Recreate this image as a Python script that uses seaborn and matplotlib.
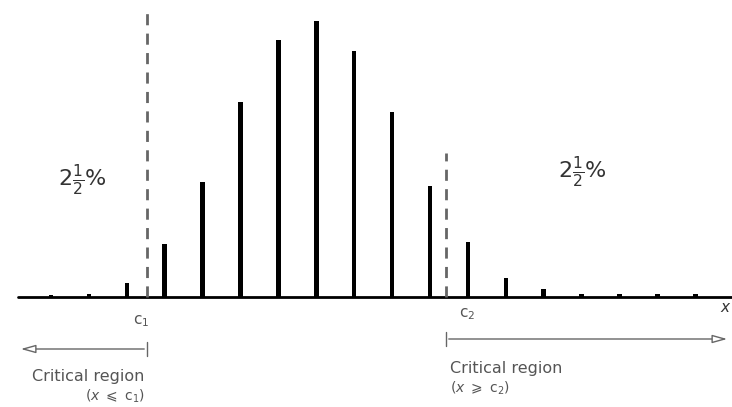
import matplotlib
matplotlib.use("Agg")
import matplotlib.pyplot as plt
import seaborn as sns
import numpy as np
import pandas as pd

# ---- data ----
outcomes = list(range(18))
probabilities = [0.0012, 0.0018, 0.009, 0.034, 0.073, 0.124, 0.164, 0.176, 0.157,
                 0.118, 0.071, 0.035, 0.012, 0.005, 0.002, 0.002, 0.002, 0.002]
c1_pos = 2.53
c2_pos = 10.42
c1_height = 0.183
c2_height = 0.092
tail_label = r"2$\frac{1}{2}$%"

sns.set_style("white")
plt.rcParams['font.family'] = ['DejaVu Sans']
plt.rcParams['mathtext.fontset'] = 'dejavusans'

W, H = 732, 407
fig = plt.figure(figsize=(W / 100, H / 100), dpi=100)
ax = fig.add_axes([0, 0, 1, 1])

df = pd.DataFrame({"x": outcomes, "p": probabilities})
sns.barplot(data=df, x="x", y="p", native_scale=True, width=0.12, color="black",
            saturation=1, ax=ax, edgecolor="black", linewidth=0)

# pixel mapping
px0, dpx = 51.0, 37.9
base_py, scale = 297.0, 1570.0
ax.set_xlim(-px0 / dpx, (W - px0) / dpx)
ax.set_ylim(-(H - base_py) / scale, base_py / scale)
ax.axis("off")

# baseline
ax.axhline(0, xmin=18 / W, xmax=1, color="black", lw=2)

# dashed critical lines
ax.vlines([c1_pos], 0, c1_height, colors="#666666", linestyles=(0, (4, 3)), lw=2)
ax.vlines([c2_pos], 0, c2_height, colors="#666666", linestyles=(0, (4, 3)), lw=2)

def fx(px):
    return px / W

def fy(py):
    return 1 - py / H

tc = "#555555"
fig.text(fx(82), fy(180), tail_label, fontsize=16, ha="center", va="center", color="#333333")
fig.text(fx(582), fy(172), tail_label, fontsize=16, ha="center", va="center", color="#333333")

fig.text(fx(141), fy(321), r"c$_1$", fontsize=11, ha="center", va="center", color=tc)
fig.text(fx(467), fy(314), r"c$_2$", fontsize=11, ha="center", va="center", color=tc)
fig.text(fx(726), fy(307), r"$x$", fontsize=11, ha="center", va="center", color="#333333")

# arrows
ax.annotate("", xy=(fx(18), fy(349)), xytext=(fx(147), fy(349)),
            xycoords="figure fraction", textcoords="figure fraction",
            arrowprops=dict(arrowstyle="-|>,head_length=0.9,head_width=0.25",
                            color="#666666", lw=1, fc="white"))
ax.annotate("", xy=(fx(730), fy(339)), xytext=(fx(446), fy(339)),
            xycoords="figure fraction", textcoords="figure fraction",
            arrowprops=dict(arrowstyle="-|>,head_length=0.9,head_width=0.25",
                            color="#666666", lw=1, fc="white"))
fig.add_artist(plt.Line2D([fx(147), fx(147)], [fy(342), fy(356)], color="#666666", lw=1))
fig.add_artist(plt.Line2D([fx(446), fx(446)], [fy(332), fy(346)], color="#666666", lw=1))

fig.text(fx(32), fy(377), "Critical region", fontsize=11.5, ha="left", va="center", color=tc)
fig.text(fx(145), fy(396), r"($x$ $\leqslant$ c$_1$)", fontsize=10, ha="right", va="center", color=tc)
fig.text(fx(450), fy(368), "Critical region", fontsize=11.5, ha="left", va="center", color=tc)
fig.text(fx(450), fy(388), r"($x$ $\geqslant$ c$_2$)", fontsize=10, ha="left", va="center", color=tc)

fig.savefig("out.png", dpi=100)
